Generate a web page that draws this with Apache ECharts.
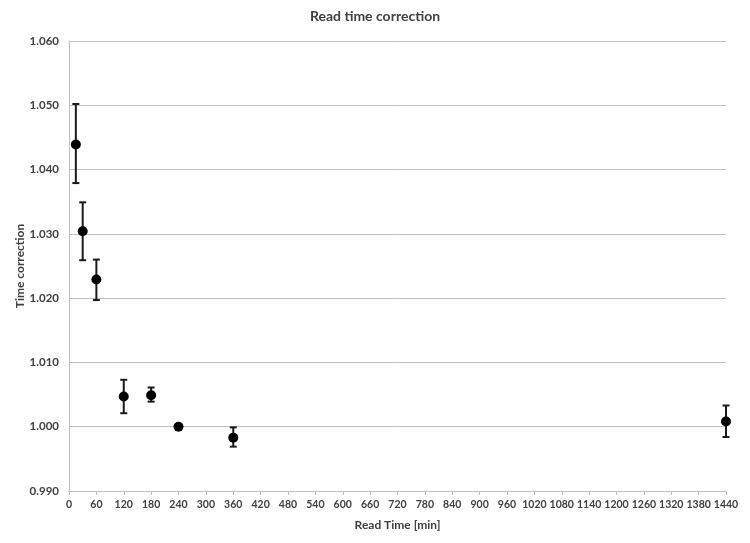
<!DOCTYPE html>
<html>
<head>
<meta charset="utf-8">
<script src="https://cdn.jsdelivr.net/npm/echarts@6/dist/echarts.min.js"></script>
<style>
  html, body { margin: 0; padding: 0; background: #fff; }
  #chart { width: 750px; height: 543px; }
</style>
</head>
<body>
<div id="chart"></div>
<script>
// read time in minutes
const readTimes = [15, 30, 60, 120, 180, 240, 360, 1440]
// mean correction factor
const corrections = [1.0439, 1.0304, 1.0229, 1.0047, 1.0049, 1.0000, 0.9983, 1.0008]
// error bar ends
const errLow = [1.0379, 1.0259, 1.0197, 1.0021, 1.0039, 1.0000, 0.9969, 0.9984]
const errHigh = [1.0502, 1.0349, 1.0260, 1.0073, 1.0061, 1.0000, 0.9999, 1.0033]

const font = 'Lato, "Open Sans", sans-serif'
const textColor = '#404040'

let points = readTimes.map((t, i) => [t, corrections[i]])
let bars = readTimes.map((t, i) => [t, errLow[i], errHigh[i]])

let myChart = echarts.init(document.getElementById('chart'))

let option = {
    animation: false,
    title: {
        text: 'Read time correction',
        left: 'center',
        top: 4,
        textStyle: { fontFamily: font, fontSize: 14, fontWeight: 'bold', color: textColor }
    },
    grid: { left: 69, right: 24, top: 41, bottom: 52 },
    xAxis: {
        type: 'value',
        min: 0,
        max: 1440,
        interval: 60,
        name: 'Read Time [min]',
        nameLocation: 'middle',
        nameGap: 28,
        nameMoveOverlap: false,
        nameTextStyle: { fontFamily: font, fontSize: 12, fontWeight: 'bold', color: textColor },
        axisLine: { show: true, lineStyle: { color: '#bfbfbf', width: 1 } },
        axisTick: { show: true, length: 4, lineStyle: { color: '#bfbfbf' } },
        axisLabel: {
            fontFamily: font, fontSize: 10.5, fontWeight: 'bold', color: textColor, margin: 8,
            formatter: (v) => String(v)
        },
        splitLine: { show: false }
    },
    yAxis: {
        type: 'value',
        min: 0.99,
        max: 1.06,
        interval: 0.01,
        name: 'Time correction',
        nameLocation: 'middle',
        nameGap: 43,
        nameMoveOverlap: false,
        nameTextStyle: { fontFamily: font, fontSize: 12, fontWeight: 'bold', color: textColor },
        axisLine: { show: true, lineStyle: { color: '#bfbfbf', width: 1 } },
        axisTick: { show: false },
        axisLabel: {
            fontFamily: font, fontSize: 11.5, fontWeight: 'bold', color: textColor, margin: 10,
            formatter: (v) => v.toFixed(3)
        },
        splitLine: { show: true, lineStyle: { color: '#c0c0c0', width: 1 } }
    },
    series: [
        {
            type: 'custom',
            data: bars,
            z: 2,
            renderItem: function (params, api) {
                let x = api.value(0)
                let lo = api.coord([x, api.value(1)])
                let hi = api.coord([x, api.value(2)])
                let cap = 3.5
                let style = { stroke: '#1a1a1a', lineWidth: 2 }
                return {
                    type: 'group',
                    children: [
                        { type: 'line', shape: { x1: lo[0], y1: lo[1], x2: hi[0], y2: hi[1] }, style: style },
                        { type: 'line', shape: { x1: lo[0] - cap, y1: lo[1], x2: lo[0] + cap, y2: lo[1] }, style: style },
                        { type: 'line', shape: { x1: hi[0] - cap, y1: hi[1], x2: hi[0] + cap, y2: hi[1] }, style: style }
                    ]
                }
            }
        },
        {
            type: 'scatter',
            data: points,
            z: 3,
            symbol: 'circle',
            symbolSize: 10,
            itemStyle: { color: '#000000', opacity: 1 }
        }
    ]
}
myChart.setOption(option)
</script>
</body>
</html>
